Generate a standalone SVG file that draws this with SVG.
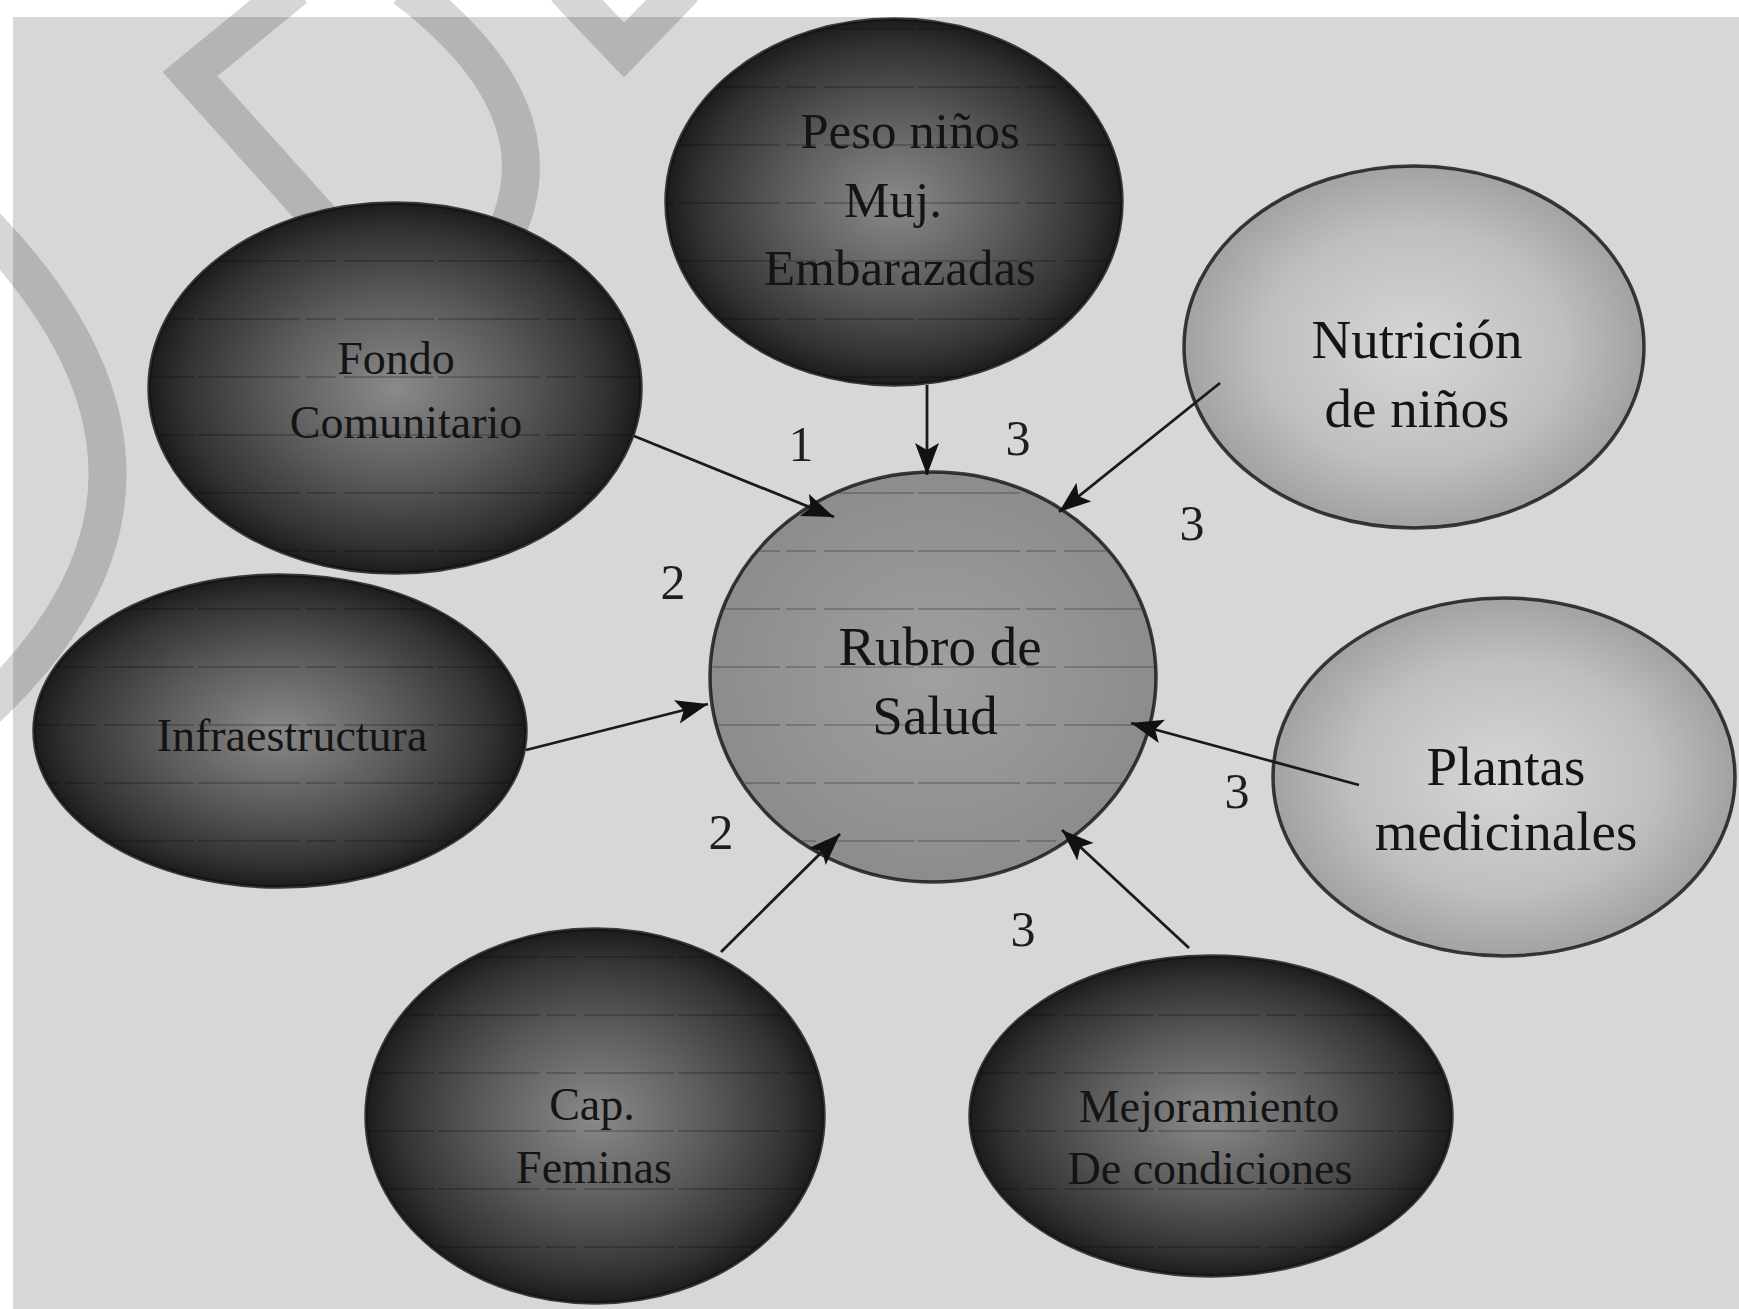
<svg xmlns="http://www.w3.org/2000/svg" width="1739" height="1309" viewBox="0 0 1739 1309">
<style>
.wm{fill:none;stroke:#000;stroke-opacity:0.16;stroke-width:38;stroke-linejoin:miter}
.edge{stroke:#111;stroke-width:3.5;stroke-opacity:0.8}
.conn{stroke:#1a1a1a;stroke-width:2.8;fill:none;marker-end:url(#arr)}
text{font-family:"Liberation Serif","Times New Roman",serif;fill:#141414;text-anchor:middle}
.tl{font-size:55px}
.td{font-size:46px}
.tp{font-size:51px}
.num{font-size:50px;fill:#1e1e1e}
</style>
<defs>
<radialGradient id="dark" cx="50%" cy="50%" r="50%">
<stop offset="0" stop-color="#8a8a8a"/>
<stop offset="0.5" stop-color="#5a5a5a"/>
<stop offset="0.85" stop-color="#333"/>
<stop offset="1" stop-color="#1c1c1c"/>
</radialGradient>
<radialGradient id="light" cx="50%" cy="50%" r="50%">
<stop offset="0" stop-color="#d6d6d6"/>
<stop offset="0.65" stop-color="#bfbfbf"/>
<stop offset="1" stop-color="#a2a2a2"/>
</radialGradient>
<radialGradient id="mid" cx="50%" cy="50%" r="50%">
<stop offset="0" stop-color="#a0a0a0"/>
<stop offset="1" stop-color="#8c8c8c"/>
</radialGradient>
<pattern id="lines" patternUnits="userSpaceOnUse" width="240" height="58">
<path d="M0 29 H240" stroke="#000" stroke-opacity="0.2" stroke-width="2" stroke-dasharray="60 6 30 8 90 4"/>
</pattern>
<marker id="arr" markerUnits="userSpaceOnUse" markerWidth="34" markerHeight="26" refX="32" refY="12" orient="auto">
<path d="M0 0 L32 12 L0 24 L7 12 Z" fill="#111"/>
</marker>
</defs>
<rect x="0" y="0" width="1739" height="1309" fill="#fff"/>
<rect x="13" y="17" width="1726" height="1292" fill="#d7d7d7"/>
<g id="watermark">
<path class="wm" d="M295 -12 L190 74 L420 330"/>
<path class="wm" d="M405 -12 Q605 140 460 300"/>
<path class="wm" d="M565 -12 L624 50 L684 -12"/>
<path class="wm" d="M-15 225 Q230 480 -15 710"/>
</g>
<g id="node-infraestructura">
<ellipse cx="280" cy="731" rx="246" ry="156" fill="url(#dark)" class="edge"/>
<ellipse cx="280" cy="731" rx="244" ry="154" fill="url(#lines)"/>
<text class="td" x="292" y="751">Infraestructura</text>
</g>
<g id="node-fondo">
<ellipse cx="395" cy="388" rx="246" ry="185" fill="url(#dark)" class="edge"/>
<ellipse cx="395" cy="388" rx="244" ry="183" fill="url(#lines)"/>
<text class="td" x="396" y="374">Fondo</text>
<text class="td" x="406" y="438">Comunitario</text>
</g>
<g id="node-peso">
<ellipse cx="894" cy="202" rx="228" ry="183" fill="url(#dark)" class="edge"/>
<ellipse cx="894" cy="202" rx="226" ry="181" fill="url(#lines)"/>
<text class="tp" x="910" y="148">Peso niños</text>
<text class="tp" x="893" y="217">Muj.</text>
<text class="tp" x="900" y="285">Embarazadas</text>
</g>
<g id="node-nutricion">
<ellipse cx="1414" cy="347" rx="230" ry="181" fill="url(#light)" class="edge"/>
<text class="tl" x="1417" y="358">Nutrición</text>
<text class="tl" x="1417" y="427">de niños</text>
</g>
<g id="node-rubro">
<ellipse cx="933" cy="677" rx="223" ry="205" fill="url(#mid)" class="edge"/>
<ellipse cx="933" cy="677" rx="221" ry="203" fill="url(#lines)"/>
<text class="tl" x="940" y="665">Rubro de</text>
<text class="tl" x="935" y="734">Salud</text>
</g>
<g id="node-plantas">
<ellipse cx="1504" cy="777" rx="231" ry="179" fill="url(#light)" class="edge"/>
<text class="tl" x="1506" y="785">Plantas</text>
<text class="tl" x="1506" y="850">medicinales</text>
</g>
<g id="node-cap">
<ellipse cx="595" cy="1116" rx="229" ry="187" fill="url(#dark)" class="edge"/>
<ellipse cx="595" cy="1116" rx="227" ry="185" fill="url(#lines)"/>
<text class="td" x="592" y="1120">Cap.</text>
<text class="td" x="594" y="1183">Feminas</text>
</g>
<g id="node-mejoramiento">
<ellipse cx="1211" cy="1116" rx="241" ry="160" fill="url(#dark)" class="edge"/>
<ellipse cx="1211" cy="1116" rx="239" ry="158" fill="url(#lines)"/>
<text class="td" x="1209" y="1122">Mejoramiento</text>
<text class="td" x="1210" y="1184">De condiciones</text>
</g>
<g id="connectors">
<line class="conn" x1="634" y1="436" x2="834" y2="517"/>
<line class="conn" x1="927" y1="385" x2="927" y2="475"/>
<line class="conn" x1="1220" y1="383" x2="1059" y2="512"/>
<line class="conn" x1="526" y1="750" x2="708" y2="704"/>
<line class="conn" x1="1359" y1="785" x2="1131" y2="723"/>
<line class="conn" x1="721" y1="952" x2="840" y2="834"/>
<line class="conn" x1="1189" y1="948" x2="1062" y2="830"/>
</g>
<g id="labels">
<text class="num" x="801" y="461">1</text>
<text class="num" x="1018" y="455">3</text>
<text class="num" x="1192" y="540">3</text>
<text class="num" x="673" y="599">2</text>
<text class="num" x="721" y="849">2</text>
<text class="num" x="1237" y="808">3</text>
<text class="num" x="1023" y="946">3</text>
</g>
</svg>
